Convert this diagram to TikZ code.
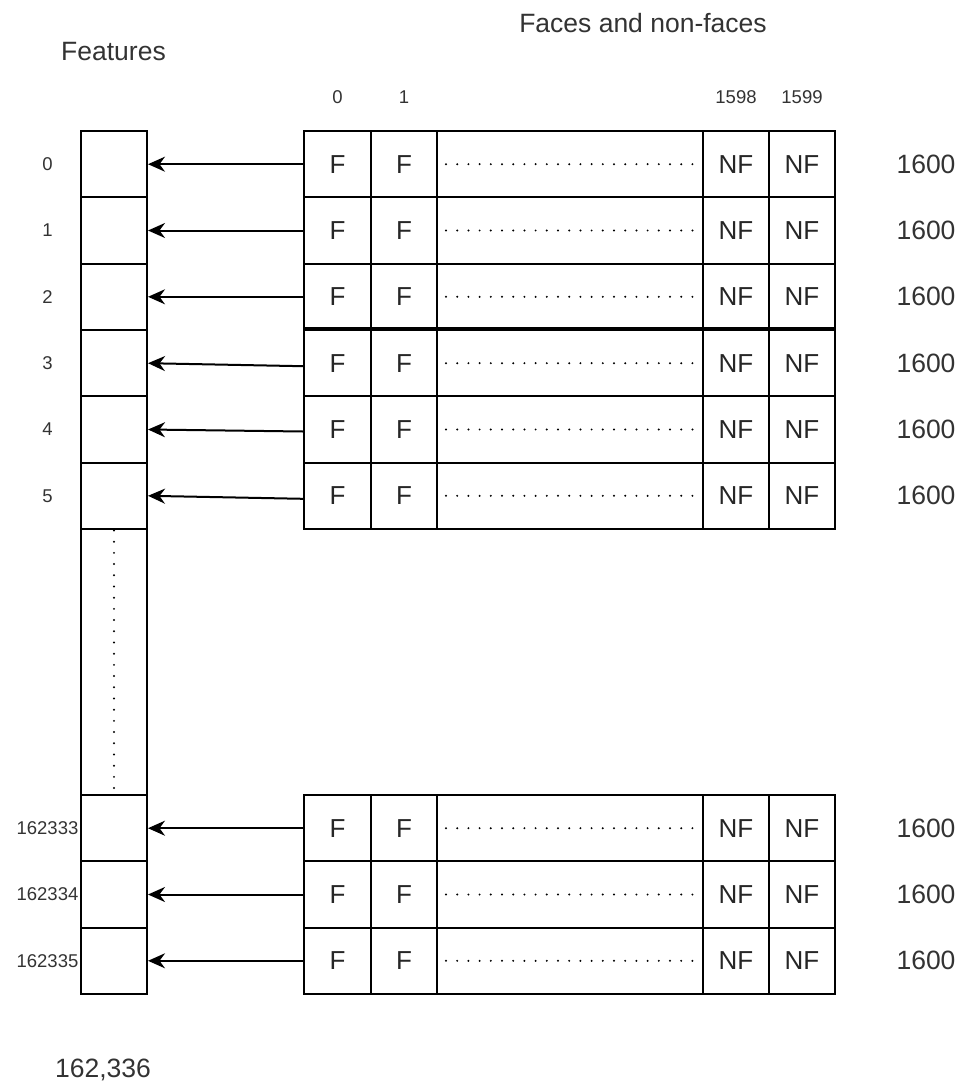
\documentclass[tikz,border=0pt]{standalone}
\usepackage{fontspec}
\setmainfont{Liberation Sans}
\usetikzlibrary{arrows.meta}
\begin{document}
\begin{tikzpicture}[x=1pt,y=-1pt,
  cell/.style={draw, line width=2pt, inner sep=0pt, minimum height=66.3pt, text=black!85, font=\fontsize{26}{26}\selectfont},
  dotrow/.style={line width=2.2pt, line cap=round, dash pattern=on 0pt off 11.2pt},
  lbl/.style={text=black!80, font=\fontsize{18.5}{18.5}\selectfont, inner sep=0pt},
  big/.style={text=black!80, font=\fontsize{26.5}{26.5}\selectfont, inner sep=0pt},
  arr/.style={line width=2pt, -{Stealth[length=17pt, width=15pt, inset=5.5pt]}}]
\useasboundingbox (0,0) rectangle (963,1084);
% titles
\node[big] (tfeat) at (113.5,52) {Features};
\node[big] (tfaces) at (643,23.5) {Faces and non-faces};
% column headers
\node[lbl] (h0) at (337.5,97) {0};
\node[lbl] (h1) at (404,97) {1};
\node[lbl] (h2) at (736,97) {1598};
\node[lbl] (h3) at (802,97) {1599};
% long feature box with vertical dots
\node[cell, minimum width=66pt, minimum height=265.5pt] (fl) at (114,662.2) {};
\draw[dotrow] ([yshift=-2pt]fl.north) -- ([yshift=3pt]fl.south);
% rows
\foreach \i/\y/\t/\s in {0/164.2/0/0, 1/230.5/1/0, 2/296.8/2/0, 3/363.2/3/-3, 4/429.5/4/-2, 5/495.8/5/-3, 6/828.2/162333/0, 7/894.5/162334/0, 8/960.8/162335/0} {
  \node[lbl] (l\i) at (47.5,\y) {\t};
  \node[cell, minimum width=66pt] (f\i) at (114,\y) {};
  \node[cell, minimum width=67pt] (a\i) at (337.5,\y) {F};
  \node[cell, minimum width=66pt] (b\i) at (404,\y) {F};
  \node[cell, minimum width=266pt] (m\i) at (570,\y) {};
  \node[cell, minimum width=66pt] (c\i) at (736,\y) {NF};
  \node[cell, minimum width=66pt] (d\i) at (802,\y) {NF};
  \node[big] (n\i) at (926,\y) {1600};
  \draw[dotrow] ([xshift=10pt]m\i.west) -- ([xshift=-9pt]m\i.east);
  \draw[arr] ([yshift=\s pt]a\i.west) -- (f\i.east);
}
% thick separator
\draw[line width=3.8pt] (a3.north west) -- (d3.north east);
% total
\node[big, anchor=base] (total) at (103,1077) {162,336};
\end{tikzpicture}
\end{document}
